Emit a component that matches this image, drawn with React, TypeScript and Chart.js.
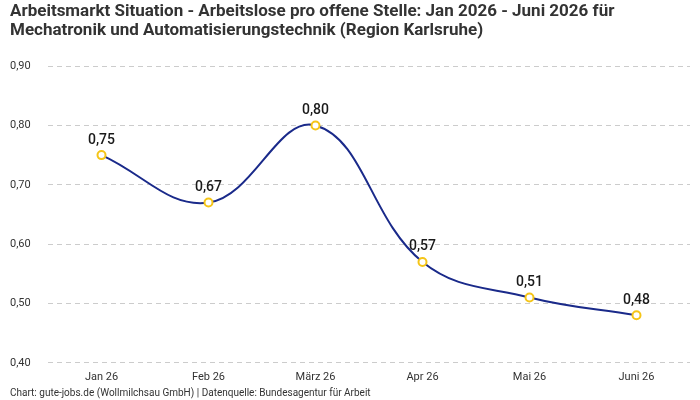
import React, { useEffect, useRef } from "react";
import { Chart, registerables } from "chart.js";

Chart.register(...registerables);

const categories = ["Jan 26", "Feb 26", "März 26", "Apr 26", "Mai 26", "Juni 26"];
const values = [0.75, 0.67, 0.8, 0.57, 0.51, 0.48];
const yTicks = [0.4, 0.5, 0.6, 0.7, 0.8, 0.9];
const titleLines = [
  "Arbeitsmarkt Situation - Arbeitslose pro offene Stelle: Jan 2026 - Juni 2026 für",
  "Mechatronik und Automatisierungstechnik (Region Karlsruhe)",
];
const footerText = "Chart: gute-jobs.de (Wollmilchsau GmbH) | Datenquelle: Bundesagentur für Arbeit";

const fmt = (v: number) => v.toFixed(2).replace(".", ",");

const labelPlugin = {
  id: "valueLabels",
  afterDatasetsDraw(chart: any) {
    const ctx = chart.ctx;
    const meta = chart.getDatasetMeta(0);
    ctx.save();
    ctx.font = "500 14px Roboto, sans-serif";
    ctx.fillStyle = "#1a1a1a";
    ctx.textAlign = "center";
    ctx.textBaseline = "bottom";
    meta.data.forEach((pt: any, i: number) => {
      ctx.fillText(fmt(values[i]), pt.x, pt.y - 8);
    });
    ctx.restore();
  },
};

const footerPlugin = {
  id: "footerText",
  afterDraw(chart: any) {
    const ctx = chart.ctx;
    ctx.save();
    ctx.font = "10px Roboto, sans-serif";
    ctx.fillStyle = "#333";
    ctx.textAlign = "left";
    ctx.textBaseline = "middle";
    ctx.fillText(footerText, 10, 393);
    ctx.restore();
  },
};

export default function App() {
  const ref = useRef<HTMLCanvasElement>(null);
  useEffect(() => {
    document.body.style.margin = "0";
    if (!ref.current) return;
    const chart = new Chart(ref.current, {
      type: "line",
      data: {
        labels: categories,
        datasets: [
          {
            data: values,
            borderColor: "#1a2a8a",
            borderWidth: 2,
            tension: 0.4,
            pointRadius: 4,
            pointBorderWidth: 2,
            pointBackgroundColor: "#ffffff",
            pointBorderColor: "#f5c518",
            fill: false,
          },
        ],
      },
      options: {
        responsive: false,
        animation: false,
        layout: { padding: { left: 10, right: 10, top: 0, bottom: 16 } },
        plugins: {
          legend: { display: false },
          tooltip: { enabled: false },
          title: {
            display: true,
            text: titleLines,
            align: "start",
            color: "#333",
            font: { family: "Roboto, sans-serif", size: 17, weight: "bold", lineHeight: 1.12 },
            padding: { top: 2, bottom: 26 },
          },
        },
        scales: {
          x: {
            offset: true,
            grid: { display: false },
            border: { display: false },
            ticks: { color: "#333", font: { family: "Roboto, sans-serif", size: 11 }, padding: 0 },
          },
          y: {
            min: 0.4,
            max: 0.9,
            afterBuildTicks: (axis: any) => {
              axis.ticks = yTicks.map((v) => ({ value: v }));
            },
            afterFit: (axis: any) => {
              axis.width = 38;
            },
            grid: { color: "#cccccc", drawTicks: false, lineWidth: 1 },
            border: { display: false, dash: [5, 4] },
            ticks: {
              color: "#333",
              crossAlign: "far",
              padding: 4,
              font: { family: "Roboto, sans-serif", size: 11 },
              callback: (v: any) => fmt(Number(v)),
            },
          },
        },
      },
      plugins: [labelPlugin, footerPlugin],
    } as any);
    return () => chart.destroy();
  }, []);
  return <canvas ref={ref} width={700} height={400} style={{ display: "block" }} />;
}
